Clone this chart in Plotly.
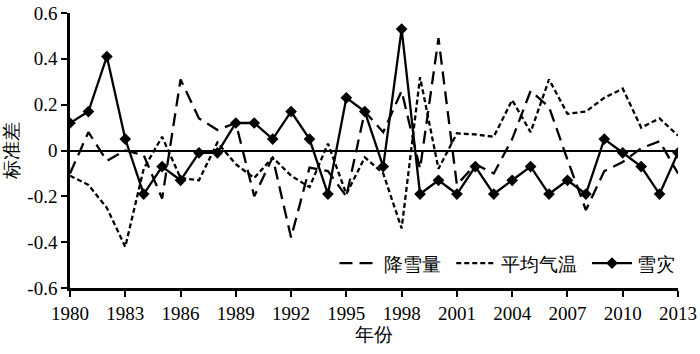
import plotly.graph_objects as go

years = list(range(1980, 2014))
snowfall = [-0.10, 0.08, -0.045, 0.00, -0.02, -0.21, 0.31, 0.14, 0.09, 0.12,
            -0.20, -0.03, -0.38, -0.075, -0.09, -0.20, 0.17, 0.08, 0.26, -0.08,
            0.49, -0.15, -0.06, -0.10, 0.05, 0.26, 0.19, -0.04, -0.26, -0.09,
            -0.05, 0.01, 0.04, -0.10]
temperature = [-0.11, -0.15, -0.25, -0.42, -0.08, 0.06, -0.12, -0.13, 0.035, -0.06,
               -0.12, -0.03, -0.11, -0.16, 0.03, -0.19, -0.03, -0.10, -0.34, 0.32,
               -0.08, 0.075, 0.07, 0.06, 0.22, 0.08, 0.31, 0.16, 0.17, 0.23,
               0.27, 0.10, 0.14, 0.065]
disaster = [0.12, 0.17, 0.41, 0.05, -0.19, -0.07, -0.13, -0.01, -0.01, 0.12,
            0.12, 0.05, 0.17, 0.05, -0.19, 0.23, 0.17, -0.07, 0.53, -0.19,
            -0.13, -0.19, -0.07, -0.19, -0.13, -0.07, -0.19, -0.13, -0.19, 0.05,
            -0.01, -0.07, -0.19, -0.01]
xticks = list(range(1980, 2014, 3))
yticks = [-0.6, -0.4, -0.2, 0, 0.2, 0.4, 0.6]
ytext = ["-0.6", "-0.4", "-0.2", "0", "0.2", "0.4", "0.6"]

FONT = "Liberation Serif"

fig = go.Figure()
fig.add_trace(go.Scatter(x=years, y=snowfall, mode="lines", name="降雪量 ",
                         line=dict(color="black", width=2.3, dash="13px,7px")))
fig.add_trace(go.Scatter(x=years, y=temperature, mode="lines", name="平均气温 ",
                         line=dict(color="black", width=2.3, dash="5px,3px")))
fig.add_trace(go.Scatter(x=years, y=disaster, mode="lines+markers", name="雪灾",
                         line=dict(color="black", width=2.3),
                         marker=dict(symbol="diamond", size=9, color="black")))

fig.update_layout(
    width=700, height=354,
    margin=dict(l=70, r=22, t=13, b=66),
    paper_bgcolor="white", plot_bgcolor="white",
    font=dict(family=FONT, size=19, color="black"),
    showlegend=True,
    legend=dict(orientation="h", x=0.435, xanchor="left", y=0.09, yanchor="middle",
                bgcolor="rgba(0,0,0,0)", font=dict(size=19), itemwidth=40,
                tracegroupgap=0),
    xaxis=dict(range=[1980, 2013], tickvals=xticks, showgrid=False, zeroline=False,
               showline=True, linecolor="black", linewidth=2.5, automargin=False,
               ticks="outside", ticklen=6, tickwidth=2, tickcolor="black",
               title=dict(text="年份", font=dict(size=19), standoff=6)),
    yaxis=dict(range=[-0.6, 0.6], tickvals=yticks, ticktext=ytext, showgrid=False,
               zeroline=True, zerolinecolor="black", zerolinewidth=1.5,
               showline=True, linecolor="black", linewidth=2.5, automargin=False,
               ticks="outside", ticklen=6, tickwidth=2, tickcolor="black",
               title=dict(text="标准差", font=dict(size=19), standoff=4)),
)

fig.write_html("out.html")
